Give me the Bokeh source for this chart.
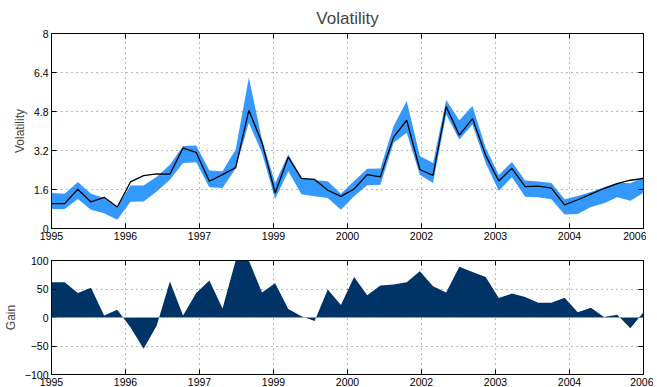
from bokeh.plotting import figure
from bokeh.layouts import column
from bokeh.models import FixedTicker, CustomJSTickFormatter, LinearAxis, Span
from bokeh.embed import file_html
from bokeh.resources import INLINE

# ---- data ----
year_labels = ["1995", "1996", "1997", "1999", "2000", "2002", "2003", "2004", "2006"]
vol_ticks = [0, 1.6, 3.2, 4.8, 6.4, 8]
vol_tick_labels = ["0", "1.6", "3.2", "4.8", "6.4", "8"]
gain_ticks = [-100, -50, 0, 50, 100]
gain_tick_labels = ["\u2212100", "\u221250", "0", "50", "100"]

vol_mid = [1.02, 1.02, 1.61, 1.09, 1.28, 0.88, 1.91, 2.17, 2.24, 2.23,
           3.30, 3.12, 1.94, 2.21, 2.50, 4.85, 3.52, 1.46, 2.93, 2.06,
           2.01, 1.57, 1.32, 1.62, 2.21, 2.12, 3.75, 4.44, 2.42, 2.18,
           5.00, 3.83, 4.51, 3.00, 1.95, 2.47, 1.72, 1.74, 1.66, 0.97,
           1.18, 1.41, 1.64, 1.84, 1.98, 2.06]
vol_upper = [1.46, 1.43, 1.91, 1.43, 1.25, 0.90, 1.76, 1.76, 2.12, 2.62,
             3.38, 3.41, 2.38, 2.35, 3.24, 6.19, 3.65, 1.87, 3.04, 2.07,
             1.98, 1.94, 1.43, 1.95, 2.45, 2.46, 4.20, 5.23, 2.97, 2.69,
             5.27, 4.44, 5.03, 3.31, 2.20, 2.73, 1.97, 1.93, 1.87, 1.20,
             1.33, 1.50, 1.69, 1.88, 1.86, 2.10]
vol_lower = [0.80, 0.80, 1.21, 0.77, 0.63, 0.36, 1.10, 1.11, 1.52, 2.00,
             2.69, 2.72, 1.69, 1.66, 2.46, 4.34, 3.10, 1.21, 2.35, 1.41,
             1.32, 1.25, 0.77, 1.32, 1.77, 1.80, 3.52, 3.93, 2.21, 1.87,
             4.68, 3.65, 4.27, 2.69, 1.55, 2.10, 1.30, 1.28, 1.20, 0.57,
             0.60, 0.88, 1.04, 1.28, 1.14, 1.47]
gain = [62, 62, 43, 52, 3.5, 13.5, -17, -55, -14, 63,
        3.5, 43, 65, 16, 100, 100, 44, 60, 15, 2,
        -6, 49, 22, 71, 39, 56, 58, 62, 81, 55,
        44, 89, 80, 71, 34, 42, 36, 26, 26, 34.5,
        9, 17, 1, 5, -19, 9]

n = len(vol_mid)
x = list(range(n))
x_ticks = [i * (n - 1) / (len(year_labels) - 1) for i in range(len(year_labels))]
x_step = (n - 1) / (len(year_labels) - 1)

FONT = "Liberation Sans"
BLUE = "#3399ff"
NAVY = "#003366"


def x_formatter():
    return CustomJSTickFormatter(args=dict(labels=year_labels, step=x_step),
                                 code="return labels[Math.round(tick / step)];")


def blank_formatter():
    return CustomJSTickFormatter(code="return '';")


def style(p, yticks, yformatter):
    p.outline_line_color = "black"
    p.outline_line_width = 1
    p.xaxis.ticker = FixedTicker(ticks=x_ticks)
    p.xaxis.formatter = x_formatter()
    p.yaxis.ticker = FixedTicker(ticks=yticks)
    p.yaxis.formatter = yformatter
    for ax in p.axis:
        ax.major_tick_in = 5
        ax.major_tick_out = 0
        ax.minor_tick_line_color = None
        ax.axis_line_color = "black"
        ax.major_label_text_font = FONT
        ax.major_label_text_font_size = "10.5px"
        ax.major_label_text_color = "black"
        ax.major_label_standoff = 3
        ax.axis_label_text_font = FONT
        ax.axis_label_text_font_size = "12px"
        ax.axis_label_text_font_style = "normal"
        ax.axis_label_standoff = 4
    p.xgrid.ticker = FixedTicker(ticks=x_ticks)
    p.ygrid.ticker = FixedTicker(ticks=yticks)
    for g in (p.xgrid[0], p.ygrid[0]):
        g.grid_line_color = "#444444"
        g.grid_line_alpha = 0.75
        g.grid_line_dash = "1 4"
        g.grid_line_width = 1
    right = LinearAxis(ticker=FixedTicker(ticks=yticks), formatter=blank_formatter(),
                       major_tick_in=5, major_tick_out=0, minor_tick_line_color=None,
                       axis_line_color=None, major_label_standoff=0,
                       major_label_text_font_size="1px")
    top = LinearAxis(ticker=FixedTicker(ticks=x_ticks), formatter=blank_formatter(),
                     major_tick_in=5, major_tick_out=0, minor_tick_line_color=None,
                     axis_line_color=None, major_label_standoff=0,
                     major_label_text_font_size="1px")
    p.add_layout(right, "right")
    p.add_layout(top, "above")


# ---- top: volatility ----
p1 = figure(frame_width=592, frame_height=195, x_range=(0, n - 1), y_range=(0, 8),
            output_backend="svg", toolbar_location=None,
            min_border_left=44, min_border_right=10, min_border_top=0, min_border_bottom=6,
            title="Volatility")
p1.title.align = "center"
p1.title.text_font = FONT
p1.title.text_font_size = "17px"
p1.title.text_font_style = "normal"
p1.title.standoff = 12
p1.varea(x=x, y1=vol_lower, y2=vol_upper, color=BLUE)
p1.line(x=x, y=vol_mid, color="black", line_width=1.3)
style(p1, vol_ticks, CustomJSTickFormatter(args=dict(labels=vol_tick_labels, step=1.6),
                                           code="return labels[Math.round(tick / step)];"))
p1.yaxis[0].axis_label = "Volatility"

# ---- bottom: gain ----
p2 = figure(frame_width=592, frame_height=114, x_range=(0, n - 1), y_range=(-100, 100),
            output_backend="svg", toolbar_location=None,
            min_border_left=44, min_border_right=10, min_border_top=18, min_border_bottom=0)
p2.varea(x=x, y1=0, y2=gain, color=NAVY)
p2.add_layout(Span(location=0, dimension="width", line_color="#8fa6c0", line_width=0.7))
style(p2, gain_ticks, CustomJSTickFormatter(args=dict(labels=gain_tick_labels),
                                            code="return labels[Math.round((tick + 100) / 50)];"))
p2.yaxis[0].axis_label = "Gain"

layout = column(p1, p2, spacing=0)
open("out.html", "w").write(file_html(layout, INLINE))
